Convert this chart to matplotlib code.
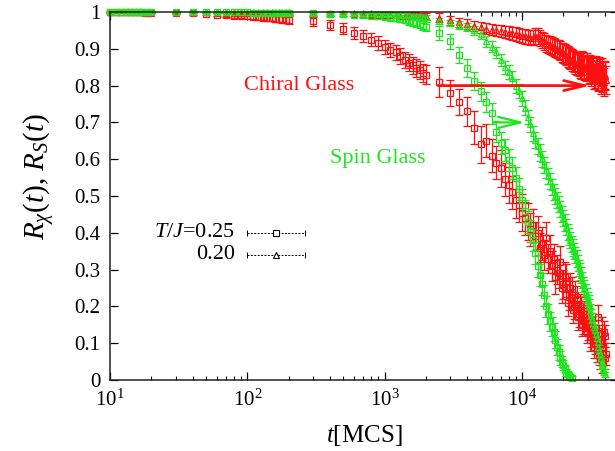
import matplotlib
matplotlib.use("Agg")
import matplotlib.pyplot as plt
from matplotlib.ticker import FixedLocator, FixedFormatter, LogLocator, NullFormatter

plt.rcParams['font.family'] = ['Liberation Serif', 'DejaVu Serif']
plt.rcParams['mathtext.fontset'] = 'custom'
plt.rcParams['mathtext.rm'] = 'Liberation Serif'
plt.rcParams['mathtext.it'] = 'Liberation Serif:italic'
plt.rcParams['mathtext.bf'] = 'Liberation Serif:bold'

# ---------------- data ----------------
t_early = [10, 11, 12, 13, 14, 15, 16, 17, 18, 19, 20,
           30, 40, 50, 60, 70, 80, 90, 100, 110, 120, 130, 140, 150, 160, 170, 180, 190, 200,
           300, 400, 500, 600, 700, 800, 900, 1000, 1100, 1200, 1300, 1400, 1500, 1600, 1700, 1800, 1900, 2000]

t_late = [2500, 3000, 3500, 4000, 4500, 5000, 5500, 6000, 6500, 7000, 7500, 8000, 8500, 9000, 9500, 10000,
          10500, 11000, 11500, 12000, 12500, 13000, 13500, 14000, 14500, 15000,
          15500, 16000, 16500, 17000, 17500, 18000, 18500, 19000, 19500, 20000,
          20500, 21000, 21500, 22000, 22500, 23000, 23500, 24000, 24500, 25000,
          25500, 26000, 26500, 27000, 27500, 28000, 28500, 29000, 29500, 30000,
          30500, 31000, 31500, 32000, 32500, 33000, 33500, 34000, 34500, 35000,
          35500, 36000, 36500, 37000, 37500, 38000, 38500, 39000, 39500, 40000,
          40500, 41000]

t_late_sg25 = [2500, 3000, 3500, 4000, 4500, 5000, 5500, 6000, 6500, 7000, 7500, 8000, 8500, 9000, 9500, 10000,
               10500, 11000, 11500, 12000, 12500, 13000, 13500, 14000, 14500, 15000, 15500, 16000, 16500,
               17000, 17500, 18000, 18500, 19000, 19500, 20000, 20500, 21000, 21500, 22000, 22500, 23000]

t_late_sg20 = [2500, 3000, 3500, 4000, 4500, 5000, 5500, 6000, 6500, 7000, 7500, 8000, 8500, 9000, 9500, 10000,
               10500, 11000, 11500, 12000, 12500, 13000, 13500, 14000, 14500, 15000,
               15500, 16000, 16500, 17000, 17500, 18000, 18500, 19000, 19500, 20000,
               20500, 21000, 21500, 22000, 22500, 23000, 23500, 24000, 24500, 25000,
               25500, 26000, 26500, 27000, 27500, 28000, 28500, 29000, 29500, 30000,
               30500, 31000, 31500, 32000, 32500, 33000, 33500, 34000, 34500, 35000,
               35500, 36000, 36500, 37000, 37500, 38000, 38500, 39000, 39500, 40000]

# chiral, T/J = 0.25 (red squares)
R_cg25_early = [1.0, 1.0, 1.0, 1.0, 1.0, 0.999, 0.999, 0.999, 0.998, 0.998, 0.998,
                0.997, 0.996, 0.995, 0.993, 0.992, 0.99, 0.989, 0.988, 0.987, 0.986, 0.985, 0.984, 0.983,
                0.982, 0.981, 0.98, 0.979, 0.978,
                0.975, 0.965, 0.955, 0.943, 0.935, 0.925, 0.915, 0.905, 0.897, 0.89, 0.88, 0.87, 0.862,
                0.855, 0.848, 0.842, 0.835, 0.83]
R_cg25_late = [0.81, 0.78, 0.755, 0.73, 0.685, 0.64, 0.65, 0.61, 0.59, 0.575, 0.545, 0.53, 0.51, 0.49, 0.475, 0.455,
               0.44, 0.43, 0.41, 0.42, 0.39, 0.40, 0.36, 0.37, 0.34, 0.385,
               0.33, 0.35, 0.31, 0.33, 0.28, 0.30, 0.29, 0.32, 0.25, 0.26,
               0.28, 0.27, 0.21, 0.23, 0.25, 0.24, 0.19, 0.20, 0.23, 0.22,
               0.17, 0.18, 0.20, 0.19, 0.15, 0.16, 0.18, 0.17, 0.13, 0.14,
               0.16, 0.15, 0.11, 0.12, 0.14, 0.13, 0.09, 0.10, 0.12, 0.08,
               0.11, 0.17, 0.07, 0.06, 0.10, 0.14, 0.05, 0.09, 0.13, 0.12,
               0.06, 0.07]
E_cg25_early = [0.002, 0.002, 0.002, 0.002, 0.002, 0.002, 0.002, 0.002, 0.002, 0.002, 0.002,
                0.003, 0.003, 0.004, 0.004, 0.005, 0.005, 0.006, 0.006, 0.007, 0.007, 0.008, 0.008, 0.008,
                0.009, 0.009, 0.01, 0.01, 0.01,
                0.012, 0.013, 0.015, 0.016, 0.017, 0.018, 0.019, 0.02, 0.02, 0.021, 0.022, 0.022, 0.023,
                0.024, 0.024, 0.025, 0.025, 0.025]
E_cg25_late = [0.04, 0.035, 0.035, 0.04, 0.045, 0.05, 0.045, 0.045, 0.045, 0.05, 0.045, 0.05, 0.045, 0.05, 0.045, 0.05,
               0.045, 0.05, 0.045, 0.045, 0.04, 0.045, 0.04, 0.045, 0.04, 0.045,
               0.04, 0.045, 0.04, 0.04, 0.045, 0.04, 0.04, 0.045, 0.04, 0.04,
               0.04, 0.045, 0.035, 0.04, 0.04, 0.04, 0.035, 0.035, 0.04, 0.035,
               0.035, 0.035, 0.035, 0.035, 0.03, 0.035, 0.035, 0.035, 0.03, 0.03,
               0.035, 0.03, 0.03, 0.03, 0.03, 0.03, 0.03, 0.03, 0.03, 0.03,
               0.03, 0.035, 0.03, 0.03, 0.03, 0.03, 0.03, 0.03, 0.03, 0.03,
               0.03, 0.03]

# chiral, T/J = 0.20 (red triangles)
R_cg20_early = [1.0, 1.0, 1.0, 1.0, 1.0, 1.0, 1.0, 1.0, 1.0, 1.0, 1.0,
                0.999, 0.999, 0.999, 0.999, 0.998, 0.998, 0.998, 0.998, 0.997, 0.997, 0.997, 0.997, 0.997,
                0.996, 0.996, 0.996, 0.996, 0.996,
                0.995, 0.995, 0.994, 0.994, 0.993, 0.993, 0.992, 0.992, 0.991, 0.991, 0.99, 0.99, 0.99,
                0.989, 0.989, 0.988, 0.988, 0.988]
R_cg20_late = [0.984, 0.978, 0.972, 0.967, 0.962, 0.958, 0.955, 0.952, 0.95, 0.948, 0.946, 0.944, 0.942, 0.94, 0.938, 0.935,
               0.934, 0.932, 0.93, 0.93, 0.935, 0.935, 0.93, 0.925, 0.92, 0.915,
               0.912, 0.91, 0.907, 0.905, 0.902, 0.90, 0.897, 0.895, 0.89, 0.888,
               0.885, 0.882, 0.879, 0.876, 0.873, 0.87, 0.868, 0.865, 0.862, 0.86,
               0.858, 0.856, 0.853, 0.85, 0.862, 0.86, 0.848, 0.845, 0.855, 0.85,
               0.838, 0.84, 0.85, 0.835, 0.842, 0.845, 0.825, 0.83, 0.845, 0.84,
               0.82, 0.825, 0.84, 0.835, 0.815, 0.82, 0.838, 0.83, 0.81, 0.825,
               0.83, 0.815]
E_cg20_early = [0.001, 0.001, 0.001, 0.001, 0.001, 0.001, 0.001, 0.001, 0.001, 0.001, 0.001,
                0.002, 0.002, 0.002, 0.002, 0.002, 0.002, 0.003, 0.003, 0.003, 0.003, 0.003, 0.003, 0.003,
                0.004, 0.004, 0.004, 0.004, 0.004,
                0.005, 0.005, 0.006, 0.006, 0.006, 0.007, 0.007, 0.007, 0.008, 0.008, 0.008, 0.009, 0.009,
                0.009, 0.01, 0.01, 0.01, 0.01]
E_cg20_late = [0.012, 0.012, 0.013, 0.013, 0.014, 0.014, 0.015, 0.015, 0.016, 0.016, 0.017, 0.017, 0.018, 0.018, 0.019, 0.02,
               0.02, 0.02, 0.021, 0.021, 0.022, 0.022, 0.022, 0.022, 0.023, 0.023,
               0.024, 0.024, 0.024, 0.025, 0.025, 0.025, 0.026, 0.026, 0.026, 0.027,
               0.027, 0.027, 0.028, 0.028, 0.028, 0.029, 0.029, 0.029, 0.03, 0.03,
               0.03, 0.031, 0.031, 0.031, 0.032, 0.032, 0.032, 0.033, 0.033, 0.033,
               0.034, 0.034, 0.034, 0.035, 0.035, 0.035, 0.035, 0.036, 0.036, 0.036,
               0.036, 0.036, 0.037, 0.037, 0.037, 0.037, 0.037, 0.037, 0.038, 0.038,
               0.038, 0.038]

# spin, T/J = 0.25 (green squares)
R_sg25_early = [1.0, 1.0, 1.0, 1.0, 1.0, 1.0, 1.0, 1.0, 1.0, 1.0, 1.0,
                1.0, 1.0, 0.999, 0.999, 0.999, 0.999, 0.999, 0.999, 0.998, 0.998, 0.998, 0.998, 0.998,
                0.998, 0.997, 0.997, 0.997, 0.997,
                0.996, 0.995, 0.994, 0.993, 0.992, 0.99, 0.989, 0.987, 0.985, 0.983, 0.981, 0.979, 0.976,
                0.973, 0.97, 0.967, 0.963, 0.96]
R_sg25_late = [0.943, 0.92, 0.883, 0.848, 0.813, 0.785, 0.755, 0.725, 0.675, 0.645, 0.625, 0.598, 0.575, 0.55, 0.52, 0.49,
               0.46, 0.43, 0.405, 0.38, 0.345, 0.31, 0.285, 0.26, 0.23, 0.2, 0.18, 0.16, 0.145,
               0.13, 0.11, 0.09, 0.075, 0.06, 0.05, 0.04, 0.03, 0.02, 0.015, 0.01, 0.008, 0.005]
E_sg25_early = [0.001, 0.001, 0.001, 0.001, 0.001, 0.001, 0.001, 0.001, 0.001, 0.001, 0.001,
                0.001, 0.001, 0.001, 0.001, 0.002, 0.002, 0.002, 0.002, 0.002, 0.002, 0.002, 0.002, 0.002,
                0.003, 0.003, 0.003, 0.003, 0.003,
                0.004, 0.004, 0.005, 0.005, 0.006, 0.006, 0.007, 0.007, 0.008, 0.008, 0.009, 0.009, 0.01,
                0.01, 0.011, 0.011, 0.012, 0.012]
E_sg25_late = [0.018, 0.02, 0.022, 0.024, 0.025, 0.026, 0.027, 0.028, 0.029, 0.03, 0.03, 0.03, 0.03, 0.03, 0.03, 0.03,
               0.03, 0.03, 0.03, 0.03, 0.03, 0.03, 0.03, 0.03, 0.028, 0.028, 0.027, 0.026, 0.025,
               0.024, 0.023, 0.022, 0.02, 0.018, 0.016, 0.014, 0.012, 0.01, 0.008, 0.007, 0.006, 0.005]

# spin, T/J = 0.20 (green triangles)
R_sg20_early = [1.0, 1.0, 1.0, 1.0, 1.0, 1.0, 1.0, 1.0, 1.0, 1.0, 1.0,
                1.0, 1.0, 1.0, 1.0, 1.0, 1.0, 1.0, 1.0, 1.0, 1.0, 0.999, 0.999, 0.999,
                0.999, 0.999, 0.999, 0.999, 0.999,
                0.998, 0.998, 0.997, 0.997, 0.996, 0.996, 0.995, 0.995, 0.994, 0.993, 0.993, 0.992, 0.991,
                0.99, 0.989, 0.988, 0.987, 0.986]
R_sg20_late = [0.975, 0.97, 0.965, 0.96, 0.95, 0.94, 0.92, 0.905, 0.89, 0.87, 0.85, 0.837, 0.82, 0.80, 0.785, 0.765,
               0.74, 0.715, 0.695, 0.67, 0.652, 0.635, 0.618, 0.60, 0.585, 0.57,
               0.555, 0.54, 0.525, 0.51, 0.50, 0.49, 0.478, 0.465, 0.452, 0.44,
               0.428, 0.415, 0.402, 0.39, 0.38, 0.37, 0.36, 0.35, 0.34, 0.33,
               0.318, 0.305, 0.295, 0.285, 0.272, 0.26, 0.25, 0.24, 0.23, 0.22,
               0.21, 0.20, 0.188, 0.175, 0.165, 0.155, 0.145, 0.135, 0.125, 0.115,
               0.102, 0.09, 0.08, 0.07, 0.06, 0.05, 0.04, 0.03, 0.022, 0.015]
E_sg20_early = [0.001, 0.001, 0.001, 0.001, 0.001, 0.001, 0.001, 0.001, 0.001, 0.001, 0.001,
                0.001, 0.001, 0.001, 0.001, 0.001, 0.001, 0.001, 0.001, 0.001, 0.001, 0.001, 0.001, 0.001,
                0.001, 0.001, 0.001, 0.001, 0.001,
                0.002, 0.002, 0.002, 0.002, 0.002, 0.003, 0.003, 0.003, 0.003, 0.003, 0.004, 0.004, 0.004,
                0.004, 0.005, 0.005, 0.005, 0.005]
E_sg20_late = [0.008, 0.009, 0.01, 0.011, 0.012, 0.013, 0.014, 0.015, 0.016, 0.017, 0.018, 0.018, 0.019, 0.019, 0.02, 0.02,
               0.02, 0.02, 0.021, 0.021, 0.021, 0.022, 0.022, 0.022, 0.022, 0.022,
               0.022, 0.022, 0.022, 0.022, 0.022, 0.022, 0.022, 0.022, 0.022, 0.022,
               0.022, 0.022, 0.022, 0.022, 0.022, 0.022, 0.022, 0.022, 0.022, 0.022,
               0.022, 0.022, 0.022, 0.021, 0.021, 0.021, 0.021, 0.02, 0.02, 0.02,
               0.02, 0.02, 0.019, 0.019, 0.018, 0.018, 0.017, 0.017, 0.016, 0.016,
               0.015, 0.015, 0.014, 0.013, 0.012, 0.011, 0.01, 0.009, 0.008, 0.008]

yticks = [0, 0.1, 0.2, 0.3, 0.4, 0.5, 0.6, 0.7, 0.8, 0.9, 1.0]
ytick_labels = ['0', '0.1', '0.2', '0.3', '0.4', '0.5', '0.6', '0.7', '0.8', '0.9', '1']
legend_labels = [r'$T/J$=0.25', '0.20']

RED = '#ff1010'
GREEN = '#1ee61e'

# ---------------- figure ----------------
fig = plt.figure(figsize=(6.15, 4.51), dpi=100)
ax = fig.add_axes([110 / 615, 71 / 451, 508 / 615, 368 / 451])


def draw(t, r, e, color, marker):
    cont = ax.errorbar(t, r, yerr=e, fmt=marker, mfc='none', mec=color, ecolor=color,
                       ms=4.6, mew=0.9, elinewidth=0.9, capsize=2.6, capthick=0.9)
    for art in cont.get_children():
        art.set_clip_on(False)


draw(t_early + t_late, R_cg20_early + R_cg20_late, E_cg20_early + E_cg20_late, RED, '^')
draw(t_early + t_late, R_cg25_early + R_cg25_late, E_cg25_early + E_cg25_late, RED, 's')
draw(t_early + t_late_sg25, R_sg25_early + R_sg25_late, E_sg25_early + E_sg25_late, GREEN, 's')
draw(t_early + t_late_sg20, R_sg20_early + R_sg20_late, E_sg20_early + E_sg20_late, GREEN, '^')

ax.set_xscale('log')
ax.set_xlim(10, 5e4)
ax.set_ylim(0, 1)
ax.yaxis.set_major_locator(FixedLocator(yticks))
ax.yaxis.set_major_formatter(FixedFormatter(ytick_labels))
ax.xaxis.set_major_locator(LogLocator(base=10, numticks=10))
ax.xaxis.set_minor_locator(LogLocator(base=10, subs=[2, 3, 4, 5, 6, 7, 8, 9], numticks=20))
ax.xaxis.set_minor_formatter(NullFormatter())

ax.tick_params(which='both', direction='in', top=True, right=True, labelsize=15, colors='black')
ax.tick_params(which='major', length=6, width=0.9, pad=7)
ax.tick_params(which='minor', length=3, width=0.8)
for sp in ax.spines.values():
    sp.set_linewidth(1.1)
    sp.set_color('#222222')

ax.set_xlabel(r'$t$[MCS]', fontsize=18, labelpad=9)
ax.set_ylabel(r'$R_\chi(t)$, $R_S(t)$', fontsize=21)
ax.yaxis.set_label_coords(-0.104, 0.552)

# annotations
ax.text(95, 0.8, 'Chiral Glass', color=RED, fontsize=16, va='center', ha='left')
ax.text(400, 0.603, 'Spin Glass', color=GREEN, fontsize=16, va='center', ha='left')
ax.annotate('', xy=(3.15e4, 0.8), xytext=(2450, 0.8),
            arrowprops=dict(arrowstyle='->,head_length=0.75,head_width=0.18', color=RED, lw=2.0,
                            mutation_scale=20, shrinkA=0, shrinkB=0))
ax.annotate('', xy=(1.05e4, 0.7), xytext=(6200, 0.7),
            arrowprops=dict(arrowstyle='->,head_length=0.8,head_width=0.2', color=GREEN, lw=1.6,
                            mutation_scale=20, shrinkA=0, shrinkB=0))

# legend (gnuplot style key)
key_y = [0.3995, 0.340]
key_markers = ['s', '^']
x0, x1, xm = 0.270, 0.384, 0.327
for lab, ky, mk in zip(legend_labels, key_y, key_markers):
    ax.text(0.246, ky, lab, transform=ax.transAxes, fontsize=16, ha='right', va='center')
    ax.plot([x0, x1], [ky, ky], transform=ax.transAxes, color='black', lw=0.7,
            linestyle=(0, (2.0, 1.5)), clip_on=False)
    ax.plot([x0, x1], [ky, ky], '|', transform=ax.transAxes, color='black', ms=4, mew=0.7, clip_on=False)
    ax.plot([xm], [ky], mk, transform=ax.transAxes, mfc='white', mec='black', ms=4.6, mew=0.8, clip_on=False)

fig.savefig('out.png', dpi=100)
